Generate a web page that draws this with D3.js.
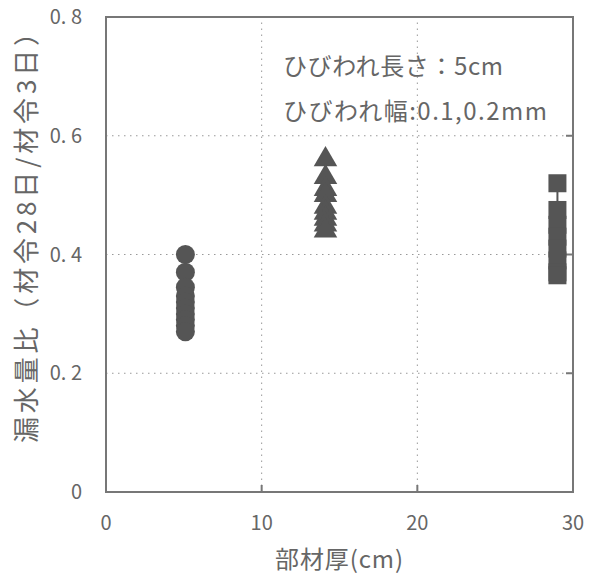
<!DOCTYPE html>
<html>
<head>
<meta charset="utf-8">
<script src="https://cdn.jsdelivr.net/npm/d3@7"></script>
<style>
  body { margin: 0; background: #fff; }
  text { font-family: "Noto Sans CJK JP", "DejaVu Sans", sans-serif; fill: #666; }
</style>
</head>
<body>
<svg id="chart" width="591" height="577"></svg>
<script>
// --- Data ---
const xTicks = [0, 10, 20, 30];
const yTicks = [0, 0.2, 0.4, 0.6, 0.8];
const yTickLabels = ["0", "0. 2", "0. 4", "0. 6", "0. 8"];

const circleX = 5.1;
const circleVals = [0.40, 0.37, 0.345, 0.33, 0.32, 0.31, 0.30, 0.29, 0.28, 0.27];
const triX = 14.1;
const triVals = [0.56, 0.53, 0.51, 0.50, 0.48, 0.47, 0.46, 0.45, 0.44];
const squareX = 29.0;
const squareVals = [0.52, 0.475, 0.45, 0.43, 0.41, 0.39, 0.37, 0.365];

const svg = d3.select("#chart");
const margin = { left: 106, right: 18, top: 17, bottom: 85 };
const W = 591, H = 577;

const x = d3.scaleLinear().domain([0, 30]).range([margin.left, W - margin.right]);
const y = d3.scaleLinear().domain([0, 0.8]).range([H - margin.bottom, margin.top]);

// Grid (dotted)
const grid = svg.append("g");
grid.selectAll("line.gy").data([0.2, 0.4, 0.6]).enter().append("line")
    .attr("x1", x(0)).attr("x2", x(30))
    .attr("y1", d => y(d)).attr("y2", d => y(d))
    .attr("stroke", "#999").attr("stroke-width", 1).attr("stroke-dasharray", "1.5,4.5");
grid.selectAll("line.gx").data([10, 20]).enter().append("line")
    .attr("y1", y(0)).attr("y2", y(0.8))
    .attr("x1", d => x(d)).attr("x2", d => x(d))
    .attr("stroke", "#999").attr("stroke-width", 1).attr("stroke-dasharray", "1.5,4.5");

// Inner ticks
svg.append("g").selectAll("line").data([10, 20]).enter().append("line")
    .attr("x1", d => x(d)).attr("x2", d => x(d))
    .attr("y1", y(0)).attr("y2", y(0) - 7)
    .attr("stroke", "#777").attr("stroke-width", 2);
svg.append("g").selectAll("line").data([0.2, 0.4, 0.6]).enter().append("line")
    .attr("x1", x(30)).attr("x2", x(30) - 7)
    .attr("y1", d => y(d)).attr("y2", d => y(d))
    .attr("stroke", "#777").attr("stroke-width", 2);

// Series connectors + markers
const markColor = "#555";
function connector(xv, vals) {
    svg.append("line")
        .attr("x1", x(xv)).attr("x2", x(xv))
        .attr("y1", y(d3.max(vals))).attr("y2", y(d3.min(vals)))
        .attr("stroke", markColor).attr("stroke-width", 2);
}
connector(circleX, circleVals);
connector(triX, triVals);
connector(squareX, squareVals);

svg.append("g").selectAll("circle").data(circleVals).enter().append("circle")
    .attr("cx", x(circleX)).attr("cy", d => y(d)).attr("r", 9.5)
    .attr("fill", markColor);

const tri = d3.symbol().type(d3.symbolTriangle).size(240);
svg.append("g").selectAll("path").data(triVals).enter().append("path")
    .attr("d", tri)
    .attr("transform", d => `translate(${x(triX)},${y(d)})`)
    .attr("fill", markColor);

const sq = 18;
svg.append("g").selectAll("rect").data(squareVals).enter().append("rect")
    .attr("x", x(squareX) - sq / 2).attr("y", d => y(d) - sq / 2)
    .attr("width", sq).attr("height", sq)
    .attr("fill", markColor);

// Frame
svg.append("rect")
    .attr("x", x(0)).attr("y", y(0.8))
    .attr("width", x(30) - x(0)).attr("height", y(0) - y(0.8))
    .attr("fill", "none").attr("stroke", "#777").attr("stroke-width", 2);

// Tick labels
svg.append("g").selectAll("text").data(yTicks).enter().append("text")
    .attr("x", 82).attr("y", d => y(d))
    .attr("dy", "0.35em").attr("text-anchor", "end")
    .attr("font-size", 20)
    .text((d, i) => yTickLabels[i]);
svg.append("g").selectAll("text").data(xTicks).enter().append("text")
    .attr("x", d => x(d)).attr("y", 523)
    .attr("dy", "0.35em").attr("text-anchor", "middle")
    .attr("font-size", 20)
    .text(d => d);

// Axis titles
svg.append("text")
    .attr("x", 275).attr("y", 560).attr("dy", "0.35em")
    .attr("font-size", 24).attr("textLength", 128).attr("lengthAdjust", "spacing")
    .text("部材厚(cm)");
svg.append("text")
    .attr("transform", "translate(27,443) rotate(-90)")
    .attr("dy", "0.35em").attr("font-size", 26)
    .attr("textLength", 423).attr("lengthAdjust", "spacing")
    .text("漏水量比（材令28日/材令3日）");

// Annotation
svg.append("text").attr("x", 283).attr("y", 67).attr("dy", "0.35em")
    .attr("font-size", 24).attr("textLength", 220).attr("lengthAdjust", "spacing")
    .text("ひびわれ長さ：5cm");
svg.append("text").attr("x", 283).attr("y", 112).attr("dy", "0.35em")
    .attr("font-size", 24).attr("textLength", 264).attr("lengthAdjust", "spacing")
    .text("ひびわれ幅:0.1,0.2mm");
</script>
</body>
</html>
